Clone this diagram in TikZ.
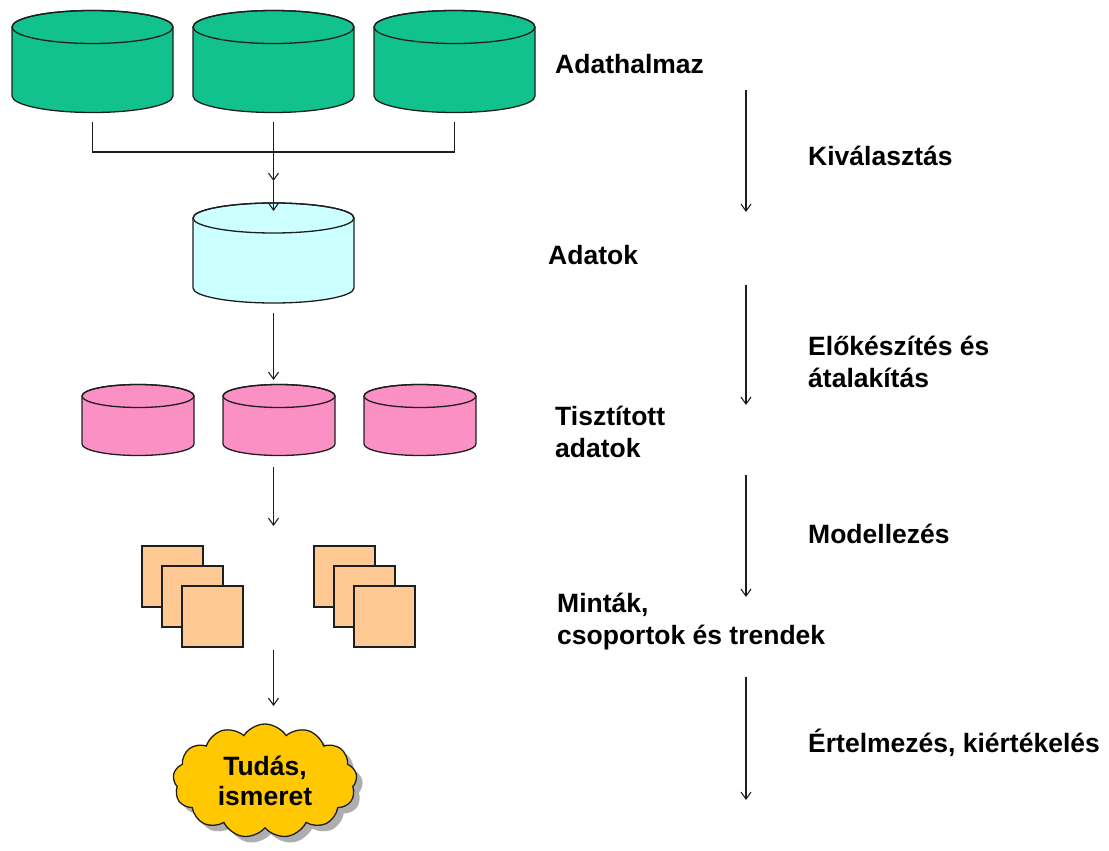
\documentclass[tikz,border=0pt]{standalone}
\usepackage{fontspec}
\setmainfont{Liberation Sans}
\usetikzlibrary{arrows.meta,shapes.symbols,shadows}
\definecolor{cgreen}{HTML}{12C28E}
\definecolor{ccyan}{HTML}{CCFFFF}
\definecolor{cpink}{HTML}{FA90C4}
\definecolor{cpeach}{HTML}{FFC993}
\definecolor{cyellow}{HTML}{FFC800}
\definecolor{cline}{HTML}{1E1E1E}
\tikzset{
  cylline/.style={draw=cline, line width=1.3pt},
  pics/cyl/.style n args={4}{code={
    \path[cylline, fill=#4] (-#1,0) -- (-#1,-#3)
      arc[start angle=180, end angle=360, x radius=#1, y radius=#2]
      -- (#1,0) arc[start angle=0, end angle=180, x radius=#1, y radius=#2] -- cycle;
    \draw[cylline] (0,0) ellipse[x radius=#1, y radius=#2];
  }},
  sheet/.style={draw=cline, line width=1.4pt, fill=cpeach, minimum width=61pt, minimum height=61pt, inner sep=0pt},
  conn/.style={draw=cline, line width=1.1pt},
  arr/.style={conn, -{Straight Barb[length=7pt,width=10pt,line width=1.1pt]}},
  lbl/.style={font=\fontsize{26.5}{32}\selectfont\bfseries, anchor=base west, inner sep=0pt, align=left},
  cloudnode/.style={cloud, cloud puffs=13, cloud puff arc=115, aspect=1.6, draw=cline, line width=1.3pt,
    fill=cyellow, minimum width=184pt, minimum height=114pt, inner sep=0pt, align=center,
    font=\fontsize{26.5}{30}\selectfont\bfseries,
    drop shadow={shadow xshift=6pt, shadow yshift=-6pt, fill=black!45, opacity=0.7}}
}
\begin{document}
\begin{tikzpicture}[x=1pt, y=1pt]
\useasboundingbox (0,0) rectangle (1109,-851);
% green cylinders
\pic at (92.5,-27) {cyl={80.5}{16.5}{69}{cgreen}};
\pic at (273.5,-27) {cyl={80.5}{16.5}{69}{cgreen}};
\pic at (454.5,-27) {cyl={80.5}{16.5}{69}{cgreen}};
% cyan cylinder
\pic at (273.5,-218) {cyl={80.5}{15}{70}{ccyan}};
% pink cylinders
\pic at (138,-396) {cyl={56}{11.5}{48}{cpink}};
\pic at (279,-396) {cyl={56}{11.5}{48}{cpink}};
\pic at (420,-396) {cyl={56}{11.5}{48}{cpink}};
% sheets
\node[sheet] (s11) at (172.5,-576.5) {};
\node[sheet] (s12) at (192.5,-596.5) {};
\node[sheet] (s13) at (212.5,-616.5) {};
\node[sheet] (s21) at (344.5,-576.5) {};
\node[sheet] (s22) at (364.5,-596.5) {};
\node[sheet] (s23) at (384.5,-616.5) {};
% cloud
\node[cloudnode] (cl) at (265,-781) {Tudás,\\ismeret};

% left connectors
\coordinate (b1) at (92.5,-122);
\coordinate (b2) at (273.5,-122);
\coordinate (b3) at (454.5,-122);
\coordinate (bj) at (273.5,-152);
\coordinate (m1) at (273.5,-181);
\coordinate (a2) at (273.5,-211);
\draw[conn] (b1) |- (bj) -| (b3);
\draw[conn] (b2) -- (bj);
\draw[arr] (bj) -- (m1);
\draw[arr] (m1) -- (a2);
\coordinate (c1) at (273.5,-313);
\coordinate (c2) at (273.5,-380);
\draw[arr] (c1) -- (c2);
\coordinate (d1) at (273.5,-467);
\coordinate (d2) at (273.5,-526);
\draw[arr] (d1) -- (d2);
\coordinate (e1) at (273.5,-650);
\coordinate (e2) at (273.5,-706);
\draw[arr] (e1) -- (e2);

% right arrows
\coordinate (r1a) at (746,-90);  \coordinate (r1b) at (746,-212);
\coordinate (r2a) at (746,-285); \coordinate (r2b) at (746,-405);
\coordinate (r3a) at (746,-475); \coordinate (r3b) at (746,-597);
\coordinate (r4a) at (746,-677); \coordinate (r4b) at (746,-800);
\draw[arr] (r1a) -- (r1b);
\draw[arr] (r2a) -- (r2b);
\draw[arr] (r3a) -- (r3b);
\draw[arr] (r4a) -- (r4b);

% labels (base = baseline of last line)
\node[lbl] (l1) at (555,-74) {Adathalmaz};
\node[lbl] (l2) at (808,-165) {Kiválasztás};
\node[lbl] (l3) at (548,-264) {Adatok};
\node[lbl] (l4) at (808,-387) {Előkészítés és\\átalakítás};
\node[lbl] (l5) at (555,-457) {Tisztított\\adatok};
\node[lbl] (l6) at (808,-543) {Modellezés};
\node[lbl] (l7) at (557,-644) {Minták,\\csoportok és trendek};
\node[lbl] (l8) at (808,-752) {Értelmezés, kiértékelés};
\end{tikzpicture}
\end{document}
